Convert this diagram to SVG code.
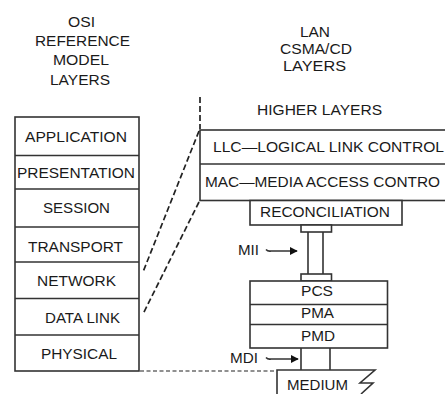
<svg xmlns="http://www.w3.org/2000/svg" width="445" height="394" viewBox="0 0 445 394">
<defs>
<style>
text{font-family:"Liberation Sans",Arial,sans-serif;font-size:14px;fill:#1a1a1a;}
.c{text-anchor:middle;}
.box{fill:#fff;stroke:#333;stroke-width:1.6;}
.ln{stroke:#333;stroke-width:1.6;fill:none;}
.dash{stroke:#222;stroke-width:1.7;fill:none;stroke-dasharray:6 3;}
.dashh{stroke:#222;stroke-width:1.2;fill:none;stroke-dasharray:4 2.5;}
</style>
<marker id="ah" viewBox="0 0 10 10" refX="9" refY="5" markerWidth="8" markerHeight="8" markerUnits="userSpaceOnUse" orient="auto">
<path d="M0,0 L10,5 L0,10 z" fill="#111"/>
</marker>
</defs>
<rect width="445" height="394" fill="#fff"/>

<g id="titles">
<text class="c" x="81.5" y="27" textLength="27" lengthAdjust="spacingAndGlyphs">OSI</text>
<text class="c" x="82.5" y="46" textLength="95" lengthAdjust="spacingAndGlyphs">REFERENCE</text>
<text class="c" x="81" y="64.5" textLength="56" lengthAdjust="spacingAndGlyphs">MODEL</text>
<text class="c" x="80" y="85" textLength="60" lengthAdjust="spacingAndGlyphs">LAYERS</text>
<text class="c" x="315" y="37" textLength="30" lengthAdjust="spacingAndGlyphs">LAN</text>
<text class="c" x="316" y="54" textLength="72" lengthAdjust="spacingAndGlyphs">CSMA/CD</text>
<text class="c" x="314.5" y="70.5" textLength="63" lengthAdjust="spacingAndGlyphs">LAYERS</text>
<text class="c" x="319.5" y="115" textLength="125" lengthAdjust="spacingAndGlyphs">HIGHER LAYERS</text>
</g>

<g id="osi-stack">
<rect class="box" x="15" y="117" width="124" height="254"/>
<line class="ln" x1="15" y1="155.5" x2="139" y2="155.5"/>
<line class="ln" x1="15" y1="189" x2="139" y2="189"/>
<line class="ln" x1="15" y1="227" x2="139" y2="227"/>
<line class="ln" x1="15" y1="262" x2="139" y2="262"/>
<line class="ln" x1="15" y1="298.5" x2="139" y2="298.5"/>
<line class="ln" x1="15" y1="335" x2="139" y2="335"/>
<text class="c" x="76" y="142" textLength="102" lengthAdjust="spacingAndGlyphs">APPLICATION</text>
<text class="c" x="76" y="178" textLength="118" lengthAdjust="spacingAndGlyphs">PRESENTATION</text>
<text class="c" x="76.5" y="213" textLength="67" lengthAdjust="spacingAndGlyphs">SESSION</text>
<text class="c" x="75.5" y="252" textLength="95" lengthAdjust="spacingAndGlyphs">TRANSPORT</text>
<text class="c" x="76.5" y="286" textLength="79" lengthAdjust="spacingAndGlyphs">NETWORK</text>
<text class="c" x="82.5" y="323" textLength="75" lengthAdjust="spacingAndGlyphs">DATA LINK</text>
<text class="c" x="79" y="359" textLength="76" lengthAdjust="spacingAndGlyphs">PHYSICAL</text>
</g>

<g id="lan-box">
<rect class="box" x="200" y="130" width="260" height="70.5"/>
<line class="ln" x1="200" y1="164" x2="460" y2="164"/>
<text x="213" y="152" textLength="231" lengthAdjust="spacingAndGlyphs">LLC—LOGICAL LINK CONTROL</text>
<text x="205" y="187" textLength="235" lengthAdjust="spacingAndGlyphs">MAC—MEDIA ACCESS CONTRO</text>
</g>

<g id="reconciliation">
<rect class="box" x="250" y="200.5" width="152" height="24.5"/>
<text class="c" x="325" y="217" textLength="130" lengthAdjust="spacingAndGlyphs">RECONCILIATION</text>
</g>

<g id="mii">
<rect class="box" x="301" y="225" width="30.5" height="7"/>
<line class="ln" x1="308" y1="232" x2="308" y2="274"/>
<line class="ln" x1="323" y1="232" x2="323" y2="274"/>
<rect class="box" x="301" y="274" width="30.5" height="7"/>
<text x="238" y="255" textLength="21" lengthAdjust="spacingAndGlyphs">MII</text>
<path class="ln" d="M266,249.5 q2,2.2 5,1.5 L297,251" marker-end="url(#ah)"/>
</g>

<g id="phy-stack">
<rect class="box" x="250" y="281" width="137.5" height="67"/>
<line class="ln" x1="250" y1="304.5" x2="387.5" y2="304.5"/>
<line class="ln" x1="250" y1="324.5" x2="387.5" y2="324.5"/>
<text class="c" x="317" y="296" textLength="32" lengthAdjust="spacingAndGlyphs">PCS</text>
<text class="c" x="317.5" y="318" textLength="33" lengthAdjust="spacingAndGlyphs">PMA</text>
<text class="c" x="318" y="341" textLength="34" lengthAdjust="spacingAndGlyphs">PMD</text>
</g>

<g id="mdi">
<line class="ln" x1="301" y1="348" x2="301" y2="370"/>
<line class="ln" x1="330" y1="348" x2="330" y2="370"/>
<text x="230" y="363" textLength="28" lengthAdjust="spacingAndGlyphs">MDI</text>
<path class="ln" d="M266,357.5 q2,2.2 5,1.5 L298,359" marker-end="url(#ah)"/>
</g>

<g id="medium">
<path class="ln" d="M277,394 L277,370 L375,370 L360,383 L373,383 L361,394"/>
<text x="287" y="390" textLength="61" lengthAdjust="spacingAndGlyphs">MEDIUM</text>
</g>

<g id="connectors">
<line class="dash" x1="200" y1="97" x2="200" y2="129"/>
<line class="dash" x1="199" y1="131" x2="143" y2="272"/>
<line class="dash" x1="199" y1="202" x2="143" y2="314"/>
<line class="dashh" x1="140" y1="371" x2="276" y2="371"/>
</g>
</svg>
